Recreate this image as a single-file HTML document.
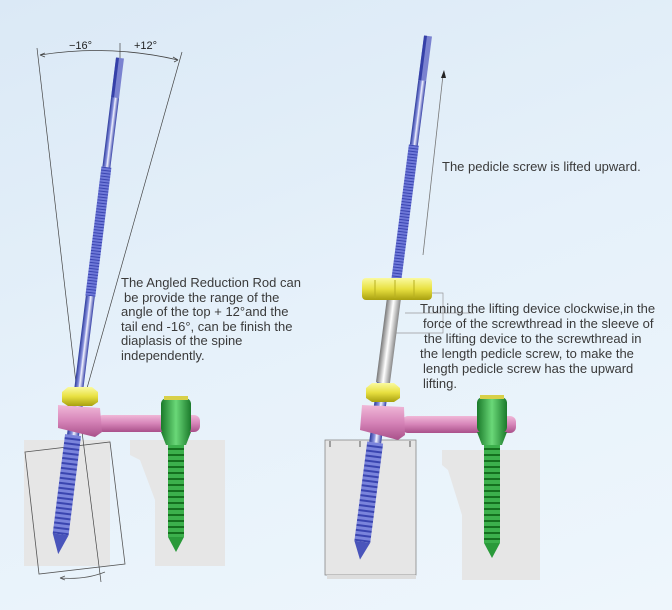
<!DOCTYPE html>
<html><head><meta charset="utf-8"><style>
html,body{margin:0;padding:0;width:672px;height:610px;overflow:hidden}
body{background:linear-gradient(160deg,#dbe9f6 0%,#e6f1fa 50%,#eef6fc 100%);font-family:"Liberation Sans",sans-serif}
svg{position:absolute;left:0;top:0}
.t{font-family:"Liberation Sans",sans-serif;font-size:13px;fill:#3a3a3a}
</style></head><body>
<svg width="672" height="610" viewBox="0 0 672 610">
<defs>
<linearGradient id="blue" x1="0" x2="1"><stop offset="0" stop-color="#2c3a9c"/><stop offset=".4" stop-color="#8d96e0"/><stop offset=".55" stop-color="#f4f5ff"/><stop offset="1" stop-color="#3540a8"/></linearGradient>
<linearGradient id="green" x1="0" x2="1"><stop offset="0" stop-color="#1a7a2a"/><stop offset=".5" stop-color="#6ad878"/><stop offset="1" stop-color="#1b7a2b"/></linearGradient>
<linearGradient id="pink" x1="0" y1="0" x2="0" y2="1"><stop offset="0" stop-color="#f0b8d8"/><stop offset=".5" stop-color="#d684b8"/><stop offset="1" stop-color="#a9508a"/></linearGradient>
<linearGradient id="yel" x1="0" y1="0" x2="0" y2="1"><stop offset="0" stop-color="#fafaa0"/><stop offset=".5" stop-color="#e8e040"/><stop offset="1" stop-color="#a8a010"/></linearGradient>
<linearGradient id="gray" x1="0" x2="1"><stop offset="0" stop-color="#777"/><stop offset=".5" stop-color="#fff"/><stop offset="1" stop-color="#888"/></linearGradient>
<pattern id="thr" width="8" height="3" patternUnits="userSpaceOnUse"><rect width="8" height="3" fill="#6e78d8"/><rect y="2" width="8" height="1" fill="#3a45b0"/></pattern>
<pattern id="thr2" width="8" height="5" patternUnits="userSpaceOnUse"><rect width="8" height="5" fill="#7a84dc"/><rect y="3" width="8" height="2" fill="#3a45b0"/></pattern>
<pattern id="gthr" width="6" height="6" patternUnits="userSpaceOnUse"><rect width="6" height="6" fill="#3cb04c"/><rect y="4" width="6" height="2" fill="#15701f"/></pattern>
</defs>

<!-- ===== LEFT FIGURE ===== -->
<rect x="24" y="440" width="86" height="126" fill="#e6e6e6"/>
<path d="M130 440 H225 V566 H155 V500 L140 460 L130 455 Z" fill="#e6e6e6"/>
<polygon points="25,452 110,442 125,564 39,574" fill="none" stroke="#555" stroke-width="0.8"/>
<polyline points="37,48 78,400 101,582" fill="none" stroke="#444" stroke-width="0.7"/>
<line x1="182" y1="52" x2="78" y2="420" stroke="#444" stroke-width="0.7"/>
<path d="M40 55 Q110 44 178 60" fill="none" stroke="#444" stroke-width="0.8"/>
<path d="M40 55 l5 -2 M40 55 l5 2 M178 60 l-5 -3 M178 60 l-4 2" stroke="#444" stroke-width="0.8"/>
<line x1="120" y1="43" x2="120" y2="62" stroke="#444" stroke-width="0.7"/>
<text x="69" y="49" font-size="11" font-family="Liberation Sans" fill="#222">−16°</text>
<text x="134" y="49" font-size="11" font-family="Liberation Sans" fill="#222">+12°</text>
<path d="M60 578 Q85 580 105 572" fill="none" stroke="#555" stroke-width="0.7"/>
<path d="M60 578 l5 -2 M60 578 l5 2" stroke="#555" stroke-width="0.7"/>

<g transform="translate(120,58) rotate(7.1)">
<rect x="-4" y="0" width="8" height="40" fill="#7a82d0"/>
<rect x="-4" y="0" width="3" height="40" fill="#3540a8"/>
<rect x="-4" y="40" width="8" height="70" fill="url(#blue)"/>
<rect x="-5" y="110" width="10" height="130" fill="url(#thr)"/>
<rect x="-4.5" y="240" width="9" height="95" fill="url(#blue)"/>
<rect x="-6" y="335" width="12" height="45" fill="url(#blue)"/>
<rect x="-8" y="380" width="16" height="100" fill="url(#thr2)"/>
<polygon points="-8,480 8,480 0,500" fill="#4a55bb"/>
</g>
<rect x="97" y="415" width="103" height="17" rx="6" fill="url(#pink)"/>
<polygon points="58,405 100,408 102,432 95,437 58,428" fill="url(#pink)"/>
<polygon points="62,392 68,387 92,387 98,392 98,402 92,406 68,406 62,402" fill="url(#yel)"/>
<rect x="161" y="398" width="30" height="36" rx="6" fill="url(#green)"/>
<rect x="164" y="396" width="24" height="4" fill="#d8d048"/>
<polygon points="161,432 191,432 186,445 166,445" fill="url(#green)"/>
<rect x="168" y="445" width="16" height="92" fill="url(#gthr)"/>
<polygon points="168,537 184,537 176,552" fill="#2a9a3a"/>

<text class="t"><tspan x="121" y="287">The Angled Reduction Rod can</tspan><tspan x="124" y="302">be provide the range of the</tspan><tspan x="121" y="316">angle of the top + 12°and the</tspan><tspan x="121" y="331">tail end -16°, can be finish the</tspan><tspan x="121" y="345">diaplasis of the spine</tspan><tspan x="121" y="360">independently.</tspan></text>

<!-- ===== RIGHT FIGURE ===== -->
<rect x="325" y="440" width="91" height="135" fill="#e6e6e6" stroke="#888" stroke-width="0.8"/>
<rect x="327" y="575" width="89" height="4" fill="#ddd"/>
<path d="M330 441 v6 M360 441 v6 M410 441 v6" stroke="#333" stroke-width="0.8"/>
<path d="M442 450 H540 V580 H462 V515 L448 470 L442 465 Z" fill="#e6e6e6"/>
<line x1="423" y1="255" x2="443" y2="75" stroke="#777" stroke-width="0.8"/>
<polygon points="444,70 441,78 446,78" fill="#222"/>
<path d="M432 293 H443 V333 H392" fill="none" stroke="#999" stroke-width="0.7"/>
<path d="M405 313 H474" fill="none" stroke="#999" stroke-width="0.7"/>
<g transform="translate(428,36) rotate(7.4)">
<rect x="-4" y="0" width="8" height="45" fill="#7a82d0"/>
<rect x="-4" y="0" width="3" height="45" fill="#3540a8"/>
<rect x="-4" y="45" width="8" height="65" fill="url(#blue)"/>
<rect x="-5" y="110" width="10" height="140" fill="url(#thr)"/>
<rect x="-7" y="250" width="14" height="100" fill="url(#gray)"/>
<rect x="-6" y="350" width="12" height="60" fill="url(#blue)"/>
<rect x="-8" y="410" width="16" height="100" fill="url(#thr2)"/>
<polygon points="-8,510 8,510 0,528" fill="#4a55bb"/>
</g>
<rect x="362" y="278" width="70" height="22" rx="4" fill="url(#yel)"/>
<path d="M375 280 v18 M395 280 v18 M414 280 v18" stroke="#b8b020" stroke-width="1"/>
<rect x="402" y="416" width="114" height="17" rx="6" fill="url(#pink)"/>
<polygon points="362,405 404,407 405,435 398,440 360,430" fill="url(#pink)"/>
<polygon points="366,388 372,383 394,383 400,388 400,398 394,402 372,402 366,398" fill="url(#yel)"/>
<rect x="477" y="397" width="30" height="36" rx="6" fill="url(#green)"/>
<rect x="480" y="395" width="24" height="4" fill="#d8d048"/>
<polygon points="477,432 507,432 502,445 482,445" fill="url(#green)"/>
<rect x="484" y="445" width="16" height="98" fill="url(#gthr)"/>
<polygon points="484,543 500,543 492,558" fill="#2a9a3a"/>

<text class="t" x="442" y="171">The pedicle screw is lifted upward.</text>
<text class="t"><tspan x="420" y="313">Truning the lifting device clockwise,in the</tspan><tspan x="423" y="328">force of the screwthread in the sleeve of</tspan><tspan x="424" y="343">the lifting device to the screwthread in</tspan><tspan x="420" y="358">the length pedicle screw, to make the</tspan><tspan x="423" y="373">length pedicle screw has the upward</tspan><tspan x="423" y="388">lifting.</tspan></text>
</svg>
</body></html>
